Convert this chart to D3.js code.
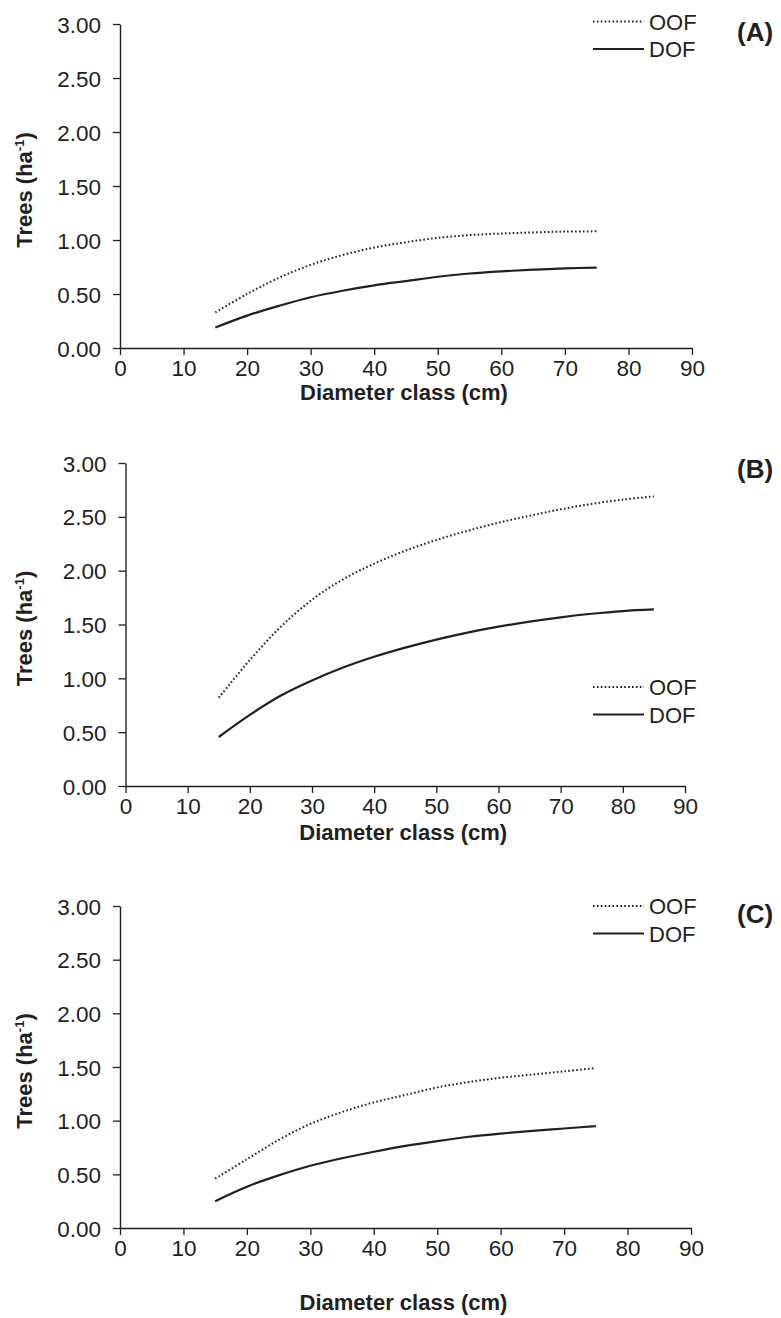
<!DOCTYPE html>
<html>
<head>
<meta charset="utf-8">
<script src="https://cdn.jsdelivr.net/npm/d3@7"></script>
<style>
  html, body { margin: 0; padding: 0; background: #fff; }
  svg { display: block; font-family: "Liberation Sans", Arial, sans-serif; }
</style>
</head>
<body>
<div id="chart"></div>
<script>
// Diameter classes (cm)
const diamA = [15, 20, 25, 30, 35, 40, 45, 50, 55, 60, 65, 70, 75];
const diamB = [15, 20, 25, 30, 35, 40, 45, 50, 55, 60, 65, 70, 75, 80, 85];
const diamC = [15, 20, 25, 30, 35, 40, 45, 50, 55, 60, 65, 70, 75];

// Trees per ha
const oofA = [0.33, 0.50, 0.65, 0.77, 0.86, 0.93, 0.98, 1.02, 1.045, 1.06, 1.07, 1.078, 1.08];
const dofA = [0.19, 0.30, 0.39, 0.47, 0.53, 0.58, 0.62, 0.66, 0.69, 0.71, 0.725, 0.737, 0.745];

const oofB = [0.82, 1.17, 1.48, 1.73, 1.92, 2.065, 2.185, 2.285, 2.37, 2.445, 2.51, 2.57, 2.62, 2.66, 2.69];
const dofB = [0.455, 0.66, 0.84, 0.98, 1.10, 1.20, 1.285, 1.36, 1.425, 1.48, 1.527, 1.567, 1.60, 1.625, 1.64];

const oofC = [0.46, 0.64, 0.82, 0.97, 1.08, 1.17, 1.24, 1.31, 1.36, 1.40, 1.43, 1.46, 1.49];
const dofC = [0.25, 0.385, 0.49, 0.58, 0.65, 0.71, 0.765, 0.81, 0.85, 0.88, 0.905, 0.927, 0.95];

const xTicks = [0, 10, 20, 30, 40, 50, 60, 70, 80, 90];
const yTicks = [0, 0.5, 1, 1.5, 2, 2.5, 3];
const seriesNames = ['OOF', 'DOF'];
const panelLabels = ['(A)', '(B)', '(C)'];

const ink = '#231f20';

// panel frames
const panels = [
  { d: diamA, oof: oofA, dof: dofA, left: 120, right: 692, top: 24, bottom: 348,
    legY: 21.5, labY: 41, titleY: 400 },
  { d: diamB, oof: oofB, dof: dofB, left: 125.5, right: 685, top: 463, bottom: 786,
    legY: 687, labY: 478, titleY: 840 },
  { d: diamC, oof: oofC, dof: dofC, left: 120, right: 691, top: 906, bottom: 1228,
    legY: 906, labY: 923, titleY: 1310 }
];

const svg = d3.select('#chart').append('svg')
  .attr('width', 781)
  .attr('height', 1318);

panels.forEach((p, i) => {
  const x = d3.scaleLinear().domain([0, 90]).range([p.left, p.right]);
  const y = d3.scaleLinear().domain([0, 3]).range([p.bottom, p.top]);

  const g = svg.append('g');

  // x axis
  const xa = g.append('g')
    .attr('transform', `translate(0,${p.bottom})`)
    .call(d3.axisBottom(x).tickValues(xTicks).tickSize(7).tickSizeOuter(0).tickPadding(5));

  // y axis
  const ya = g.append('g')
    .attr('transform', `translate(${p.left},0)`)
    .call(d3.axisLeft(y).tickValues(yTicks).tickSize(7).tickSizeOuter(0).tickPadding(12)
      .tickFormat(d3.format('.2f')));

  [xa, ya].forEach(a => {
    a.select('.domain').attr('stroke', ink).attr('stroke-width', 1.4);
    a.selectAll('.tick line').attr('stroke', ink).attr('stroke-width', 1.3);
    a.selectAll('.tick text')
      .attr('fill', ink)
      .style('font-size', '22.5px');
  });
  ya.selectAll('.tick text').attr('dy', '0.36em');

  // axis titles
  g.append('text')
    .attr('x', (p.left + p.right) / 2 - 2)
    .attr('y', p.titleY)
    .attr('text-anchor', 'middle')
    .attr('fill', ink)
    .style('font-size', '22px')
    .style('font-weight', 'bold')
    .text('Diameter class (cm)');

  const yt = g.append('text')
    .attr('transform', `translate(32,${(p.top + p.bottom) / 2 + 4}) rotate(-90)`)
    .attr('text-anchor', 'middle')
    .attr('fill', ink)
    .style('font-size', '22px')
    .style('font-weight', 'bold');
  yt.append('tspan').text('Trees (ha');
  yt.append('tspan').attr('dy', -8).style('font-size', '13px').text('-1');
  yt.append('tspan').attr('dy', 8).text(')');

  // curves
  const line = d3.line()
    .x((v, j) => x(p.d[j]))
    .y(v => y(v))
    .curve(d3.curveCatmullRom.alpha(0.5));

  g.append('path')
    .attr('d', line(p.oof))
    .attr('fill', 'none')
    .attr('stroke', ink)
    .attr('stroke-width', 2)
    .attr('stroke-dasharray', '1.6,2.3');

  g.append('path')
    .attr('d', line(p.dof))
    .attr('fill', 'none')
    .attr('stroke', ink)
    .attr('stroke-width', 2.2);

  // legend
  seriesNames.forEach((name, k) => {
    const ly = p.legY + k * 27.5;
    g.append('line')
      .attr('x1', 593).attr('x2', 644)
      .attr('y1', ly).attr('y2', ly)
      .attr('stroke', ink)
      .attr('stroke-width', k === 0 ? 2 : 2.2)
      .attr('stroke-dasharray', k === 0 ? '1.6,2.3' : null);
    g.append('text')
      .attr('x', 649)
      .attr('y', ly + 8)
      .attr('fill', ink)
      .style('font-size', '22px')
      .text(name);
  });

  // panel letter
  g.append('text')
    .attr('x', 737)
    .attr('y', p.labY)
    .attr('fill', ink)
    .style('font-size', '26px')
    .style('font-weight', 'bold')
    .text(panelLabels[i]);
});
</script>
</body>
</html>
